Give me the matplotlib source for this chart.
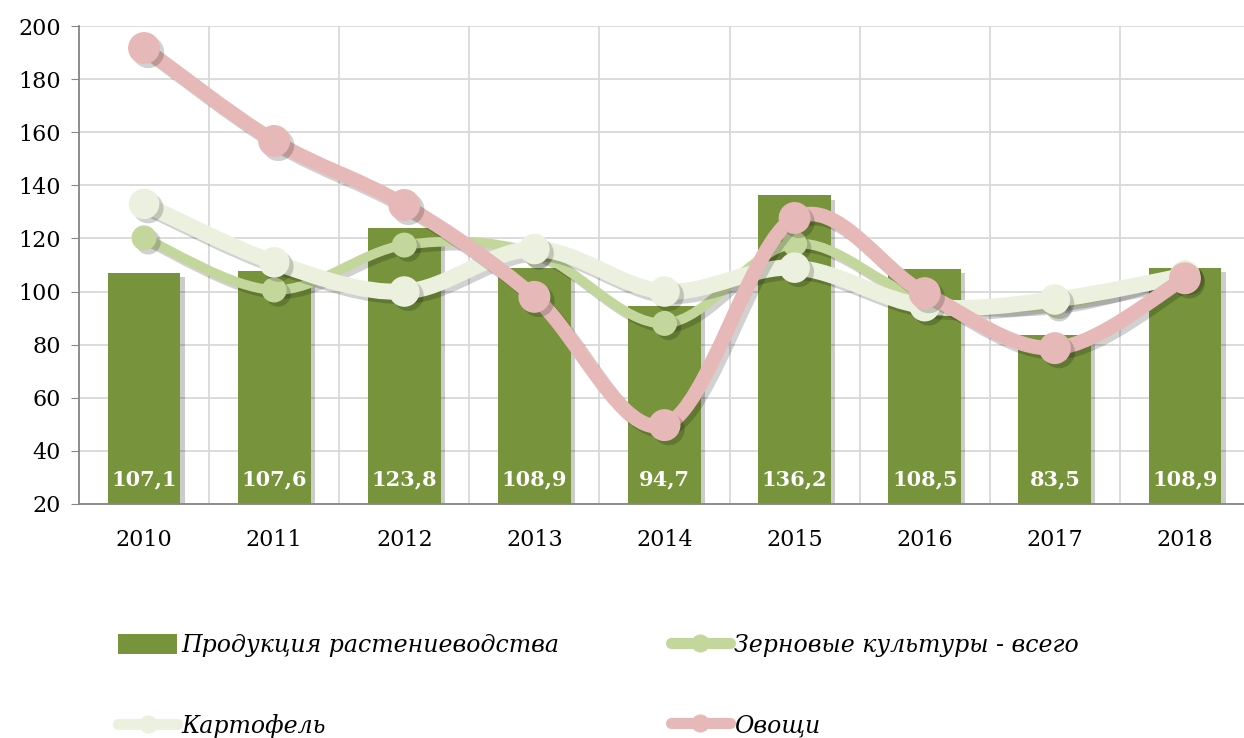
import numpy as np
import matplotlib
matplotlib.use("Agg")
import matplotlib.pyplot as plt
import matplotlib.patheffects as pe
from matplotlib.path import Path
from matplotlib.patches import PathPatch, Patch
from matplotlib.lines import Line2D

years = ["2010", "2011", "2012", "2013", "2014", "2015", "2016", "2017", "2018"]
crops = [107.1, 107.6, 123.8, 108.9, 94.7, 136.2, 108.5, 83.5, 108.9]
grain = [120.2, 100.6, 117.5, 114.5, 88.0, 118.0, 97.0, 95.0, 107.0]
potato = [133.0, 111.0, 100.0, 116.0, 100.0, 109.0, 94.5, 97.0, 106.0]
veg = [191.7, 156.7, 132.6, 98.0, 49.7, 127.7, 99.4, 78.7, 105.0]

labels = ["Продукция растениеводства", "Зерновые культуры - всего",
          "Картофель", "Овощи"]

c_bar = "#77933c"
c_grain = "#c3d69b"
c_potato = "#ebf1de"
c_veg = "#e6b9b8"

serif = "DejaVu Serif"


def smooth_path(x, y):
    # catmull-rom style bezier through the points, like excel's smoothed line
    pts = np.column_stack([x, y]).astype(float)
    n = len(pts)
    verts = [pts[0]]
    codes = [Path.MOVETO]
    for i in range(n - 1):
        p0 = pts[i - 1] if i > 0 else pts[i]
        p1 = pts[i]
        p2 = pts[i + 1]
        p3 = pts[i + 2] if i + 2 < n else pts[i + 1]
        c1 = p1 + (p2 - p0) / 6.0
        c2 = p2 - (p3 - p1) / 6.0
        verts += [c1, c2, p2]
        codes += [Path.CURVE4] * 3
    return Path(verts, codes)


fig = plt.figure(figsize=(12.44, 7.38), dpi=100)
ax = fig.add_axes([79 / 1244, 1 - 504 / 738, (1250 - 79) / 1244, (504 - 26) / 738])

x = np.arange(len(years))

bars = ax.bar(x, np.array(crops) - 20, bottom=20, width=0.56, color=c_bar,
              zorder=2)
for b in bars:
    b.set_path_effects([pe.SimplePatchShadow(offset=(3, -3), shadow_rgbFace="k",
                                             alpha=0.2), pe.Normal()])

for i, v in enumerate(crops):
    ax.annotate(f"{v:.1f}".replace(".", ","), (x[i], 20), xytext=(0, 18),
                textcoords="offset points", ha="center", va="center",
                color="white", fontsize=15, fontweight="bold", family=serif,
                zorder=6)

series = [(grain, c_grain, 7, 18), (potato, c_potato, 11.5, 22), (veg, c_veg, 10.5, 23)]
z = 3
for vals, col, lw, ms in series:
    patch = PathPatch(smooth_path(x, vals), facecolor="none", edgecolor=col,
                      lw=lw, capstyle="round", joinstyle="round", zorder=z)
    patch.set_path_effects([pe.SimpleLineShadow(offset=(3, -3), shadow_color="k",
                                                alpha=0.18), pe.Normal()])
    ax.add_patch(patch)
    ax.plot(x, vals, "o", color=col, ms=ms, mec=col, mew=0, zorder=z + 0.5,
            path_effects=[pe.SimplePatchShadow(offset=(3, -3), shadow_rgbFace="k",
                                               alpha=0.18), pe.Normal()])
    z += 1

ax.set_xlim(-0.5, 8.5)
ax.set_ylim(20, 200)
ax.set_yticks(range(20, 201, 20))
ax.set_xticks(x)
ax.set_xticklabels(years)
ax.set_xticks(np.arange(-0.5, 9, 1), minor=True)
ax.grid(axis="y", color="#d9d9d9", lw=1.3, zorder=0)
ax.grid(axis="x", which="minor", color="#d9d9d9", lw=1.3, zorder=0)
ax.set_axisbelow(True)
for s in ["top", "right"]:
    ax.spines[s].set_visible(False)
for s in ["left", "bottom"]:
    ax.spines[s].set_color("#868686")
    ax.spines[s].set_linewidth(1.3)
ax.tick_params(axis="y", length=6, color="#868686", labelsize=16, pad=7)
ax.tick_params(axis="x", which="both", length=0, labelsize=16, pad=18)
for t in ax.get_xticklabels() + ax.get_yticklabels():
    t.set_family(serif)

handles = [
    Patch(facecolor=c_bar),
    Line2D([], [], color=c_potato, lw=8, marker="o", ms=12, solid_capstyle="round"),
    Line2D([], [], color=c_grain, lw=8, marker="o", ms=12, solid_capstyle="round"),
    Line2D([], [], color=c_veg, lw=8, marker="o", ms=12, solid_capstyle="round"),
]
leg_labels = [labels[0], labels[2], labels[1], labels[3]]
fig.legend(handles, leg_labels, ncol=2, loc="center left",
           bbox_to_anchor=(118 / 1244, 1 - 686 / 738), frameon=False,
           prop={"family": serif, "style": "italic", "size": 17},
           handlelength=2.5, handleheight=0.9, handletextpad=0.2,
           labelspacing=2.4, columnspacing=4.7, borderpad=0, borderaxespad=0)

fig.savefig("out.png", dpi=100)
